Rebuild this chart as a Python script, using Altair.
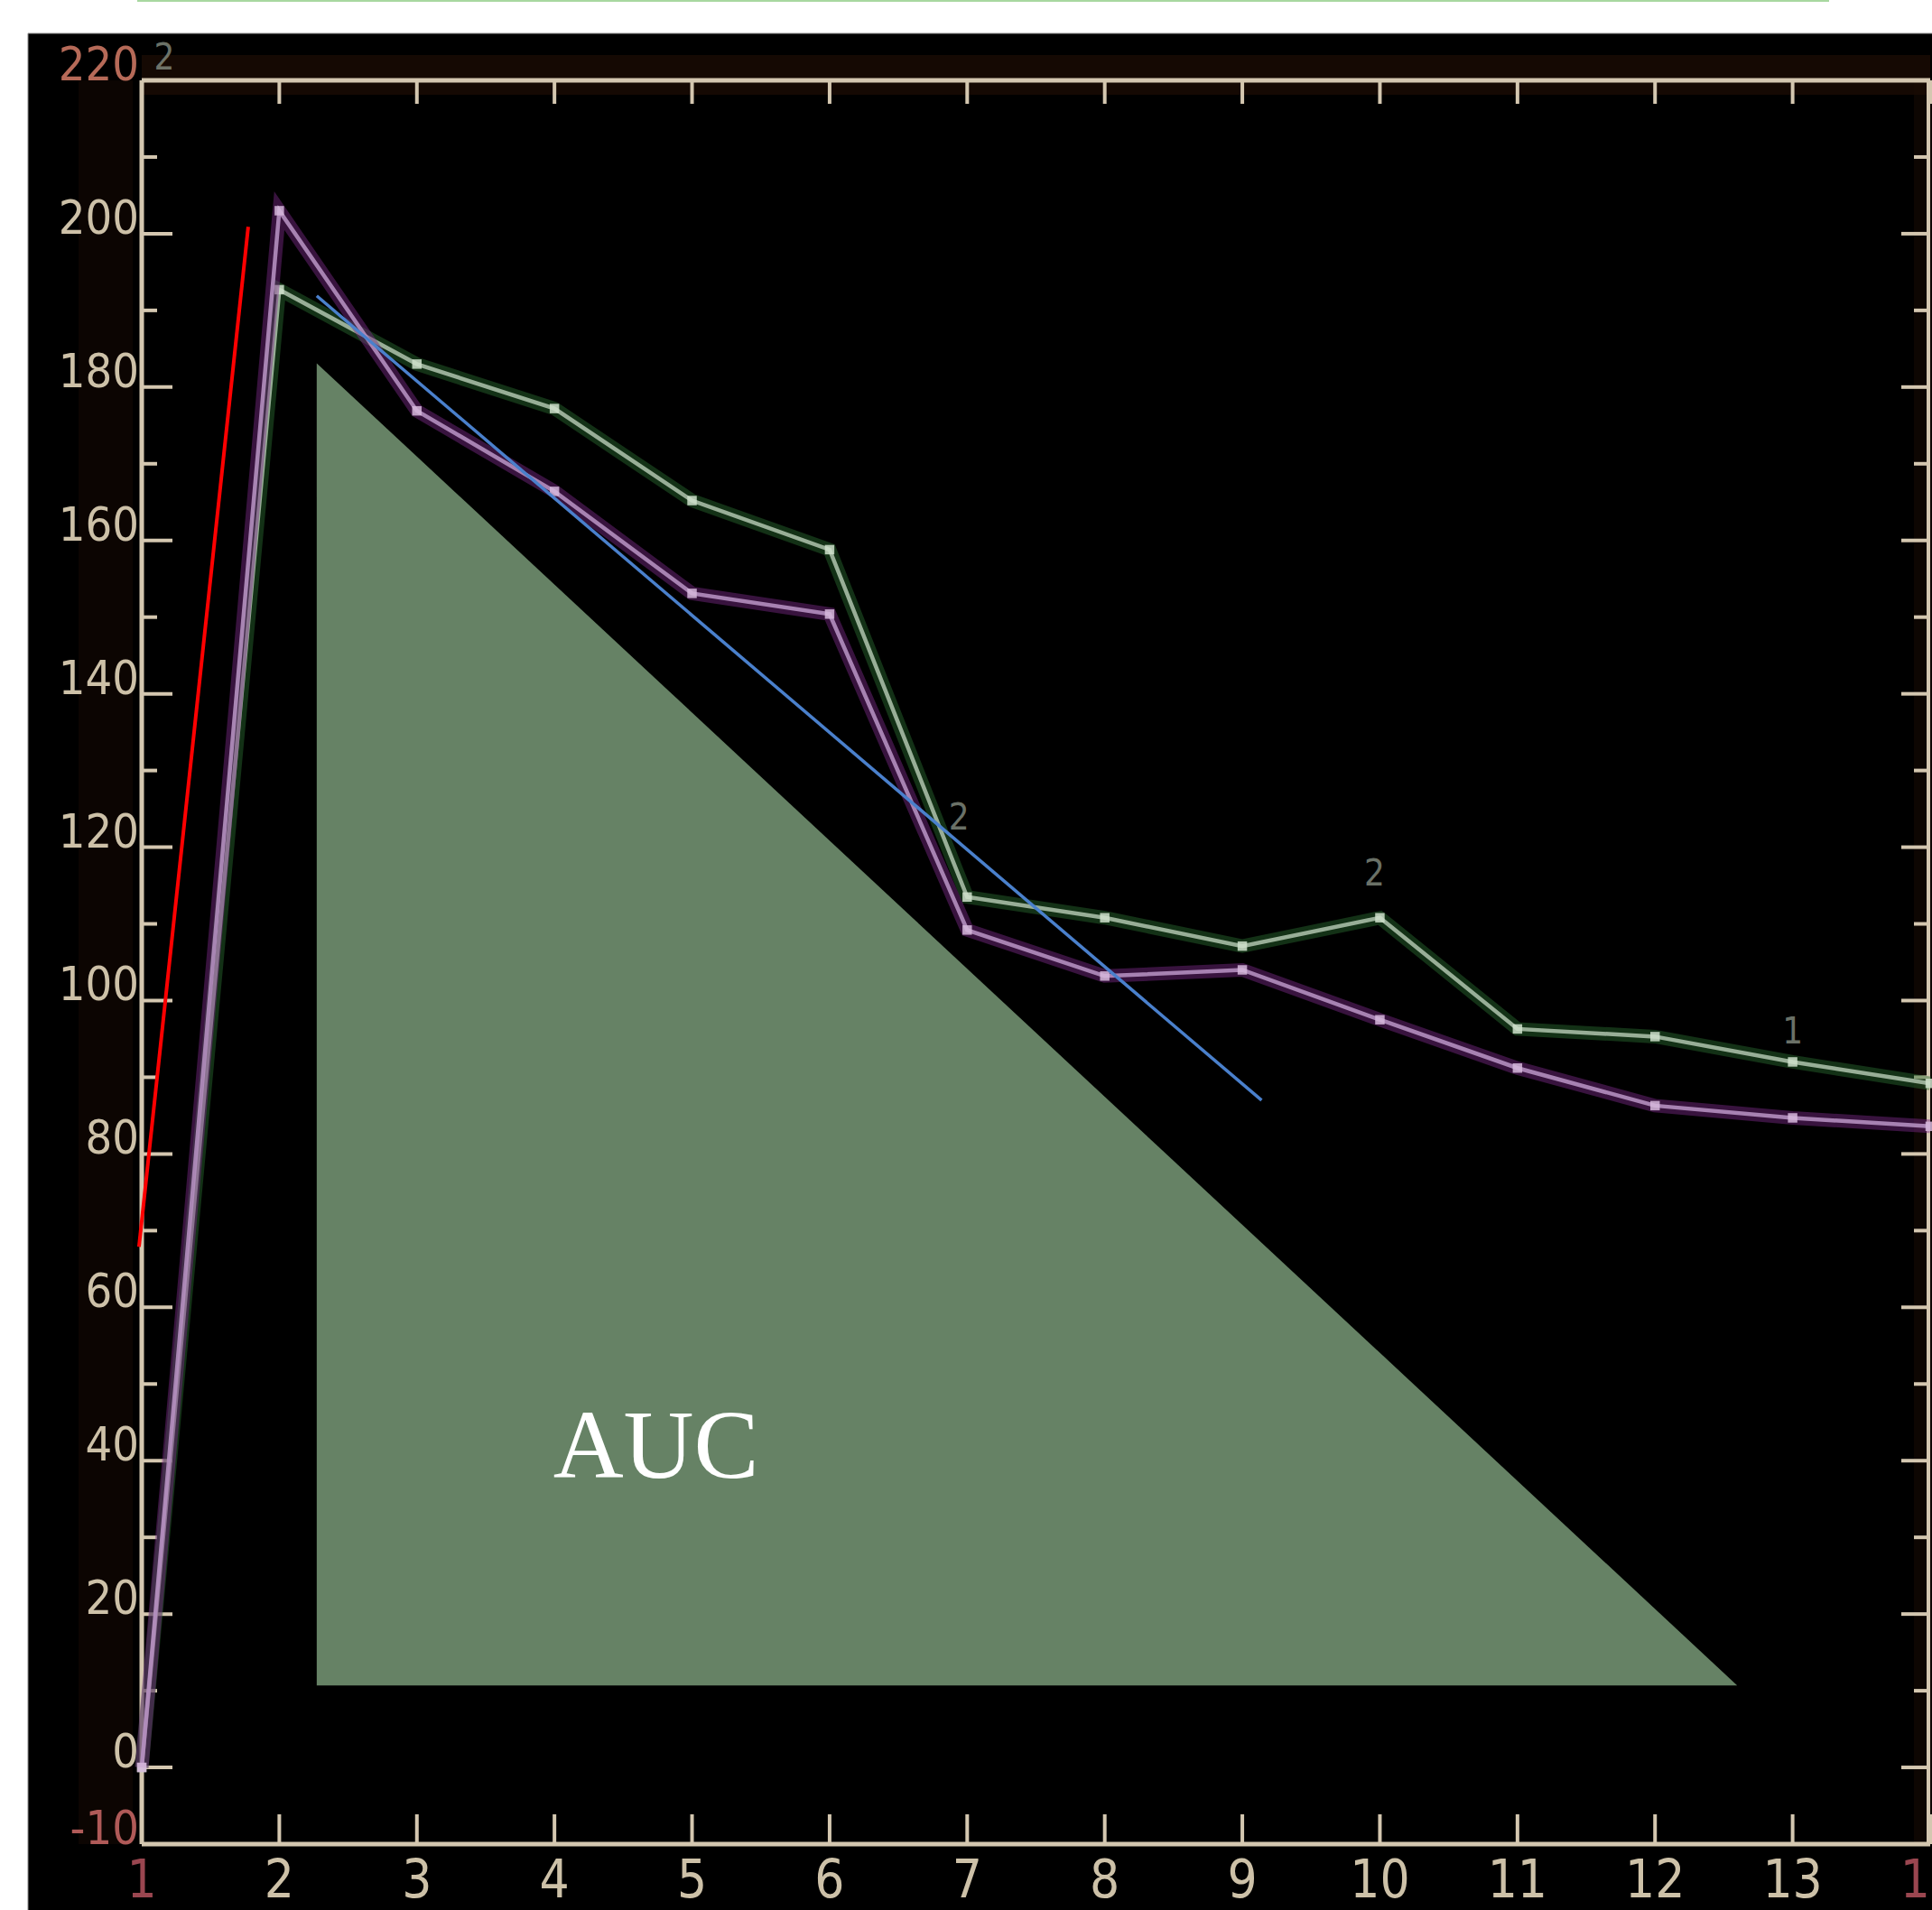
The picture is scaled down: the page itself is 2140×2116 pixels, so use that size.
import altair as alt
import pandas as pd

# Time-intensity curve: two ROI series sampled at frames 1..14
time_points = list(range(1, 15))
roi_purple = [0, 203.0, 176.9, 166.4, 153.1, 150.4, 109.2, 103.2, 104.0, 97.5, 91.2, 86.3, 84.7, 83.6]
roi_green = [0, 192.7, 183.0, 177.2, 165.2, 158.8, 113.5, 110.8, 107.1, 110.8, 96.3, 95.3, 92.0, 89.2]

# Axis labelling
y_label_values = [220, 200, 180, 160, 140, 120, 100, 80, 60, 40, 20, 0, -10]
y_label_text = ["220", "200", "180", "160", "140", "120", "100", "80", "60", "40", "20", "0", "-10"]
y_label_tint = ["#b66a58", "#cdc1a8", "#cdc1a8", "#cdc1a8", "#cdc1a8", "#cdc1a8", "#cdc1a8",
                "#cdc1a8", "#cdc1a8", "#cdc1a8", "#cdc1a8", "#cdc1a8", "#b05a58"]
x_label_values = list(range(1, 15))
x_label_text = [str(v) for v in x_label_values]
x_label_tint = ["#9a4650"] + ["#cdc1a8"] * 12 + ["#9a4650"]
y_tick_values = list(range(-10, 221, 10))
x_tick_values = list(range(1, 15))

# Annotations drawn over the curves
upslope_x = [0.98, 1.774]
upslope_y = [67.9, 200.9]
washout_x = [2.272, 9.14]
washout_y = [191.9, 87.0]
auc_x = [2.272, 12.597]
auc_top = [183.1, 10.7]
auc_base = [10.7, 10.7]
auc_text = ["AUC"]
auc_text_x = [3.99]
auc_text_y = [37.8]

# Small ROI markers printed on the curve display
roi_tag_text = ["2", "2", "2", "1"]
roi_tag_x = [1.164, 6.94, 9.96, 13.0]
roi_tag_y = [222.8, 123.7, 116.4, 95.8]

W, H = 1981, 1954
PAD_L, PAD_T = 157, 89
AXIS_COLOR = "#d4c7b0"

xs = alt.Scale(domain=[1, 14], nice=False, zero=False)
ys = alt.Scale(domain=[-10, 220], nice=False, zero=False)

one = pd.DataFrame({"k": [0]})

# White page margin on the left and top of the black display
margins = alt.layer(
    alt.Chart(one).mark_rect(fill="white").encode(
        x=alt.value(-PAD_L), x2=alt.value(-126), y=alt.value(-PAD_T), y2=alt.value(H + 80)),
    alt.Chart(one).mark_rect(fill="white").encode(
        x=alt.value(-PAD_L), x2=alt.value(W + 10), y=alt.value(-PAD_T), y2=alt.value(-52)),
    alt.Chart(one).mark_rule(color="#8a8a8a", strokeWidth=1).encode(
        x=alt.value(-126), x2=alt.value(W + 10), y=alt.value(-52)),
    alt.Chart(one).mark_rule(color="#8a8a8a", strokeWidth=1).encode(
        x=alt.value(-126), y=alt.value(-52), y2=alt.value(H + 80)),
    # thin green rule along the top of the page
    alt.Chart(one).mark_rule(color="#a8d8a0", strokeWidth=2).encode(
        x=alt.value(-5), x2=alt.value(1869), y=alt.value(-88)),
)

# Faint brown haze around the frame
glow = alt.layer(
    alt.Chart(one).mark_rule(color="#1e0d04", strokeWidth=44, opacity=0.7).encode(
        x=alt.value(0), x2=alt.value(W), y=alt.value(-6)),
    alt.Chart(one).mark_rule(color="#1a0b04", strokeWidth=60, opacity=0.45).encode(
        x=alt.value(-40), y=alt.value(0), y2=alt.value(H)),
    alt.Chart(one).mark_rule(color="#1a0b04", strokeWidth=24, opacity=0.5).encode(
        x=alt.value(W - 6), y=alt.value(0), y2=alt.value(H)),
)

# Frame lines
frame = alt.layer(
    alt.Chart(one).mark_rule(color=AXIS_COLOR, strokeWidth=5).encode(
        x=alt.value(0), x2=alt.value(W), y=alt.value(0)),
    alt.Chart(one).mark_rule(color=AXIS_COLOR, strokeWidth=5).encode(
        x=alt.value(0), x2=alt.value(W), y=alt.value(H)),
    alt.Chart(one).mark_rule(color=AXIS_COLOR, strokeWidth=5).encode(
        x=alt.value(0), y=alt.value(0), y2=alt.value(H)),
    alt.Chart(one).mark_rule(color=AXIS_COLOR, strokeWidth=4).encode(
        x=alt.value(W - 2), y=alt.value(0), y2=alt.value(H)),
)

# Inward tick marks on all four sides
yt = pd.DataFrame({"v": y_tick_values})
yt["major"] = yt["v"] % 20 == 0
xt = pd.DataFrame({"v": x_tick_values})

ticks = alt.layer(
    alt.Chart(yt).transform_filter("datum.major").mark_rule(color=AXIS_COLOR, strokeWidth=4).encode(
        y=alt.Y("v:Q", scale=ys, axis=None), x=alt.value(0), x2=alt.value(34)),
    alt.Chart(yt).transform_filter("!datum.major").mark_rule(color=AXIS_COLOR, strokeWidth=4).encode(
        y=alt.Y("v:Q", scale=ys, axis=None), x=alt.value(0), x2=alt.value(17)),
    alt.Chart(yt).transform_filter("datum.major").mark_rule(color=AXIS_COLOR, strokeWidth=4).encode(
        y=alt.Y("v:Q", scale=ys, axis=None), x=alt.value(W), x2=alt.value(W - 32)),
    alt.Chart(yt).transform_filter("!datum.major").mark_rule(color=AXIS_COLOR, strokeWidth=4).encode(
        y=alt.Y("v:Q", scale=ys, axis=None), x=alt.value(W), x2=alt.value(W - 18)),
    alt.Chart(xt).mark_rule(color=AXIS_COLOR, strokeWidth=4).encode(
        x=alt.X("v:Q", scale=xs, axis=None), y=alt.value(0), y2=alt.value(26)),
    alt.Chart(xt).mark_rule(color=AXIS_COLOR, strokeWidth=4).encode(
        x=alt.X("v:Q", scale=xs, axis=None), y=alt.value(H), y2=alt.value(H - 33)),
)

# Tick labels placed through the same scales
y_labels = alt.Chart(pd.DataFrame({"v": y_label_values, "s": y_label_text, "c": y_label_tint})).mark_text(
    font="DejaVu Sans Condensed, DejaVu Sans, sans-serif", fontSize=52,
    align="right", baseline="alphabetic", clip=False
).encode(
    y=alt.Y("v:Q", scale=ys, axis=None), x=alt.value(-3),
    text="s:N", color=alt.Color("c:N", scale=None),
)
x_labels = alt.Chart(pd.DataFrame({"v": x_label_values, "s": x_label_text, "c": x_label_tint})).mark_text(
    font="Liberation Sans Narrow, DejaVu Sans Condensed, sans-serif", fontSize=58,
    align="center", baseline="top", clip=False
).encode(
    x=alt.X("v:Q", scale=xs, axis=None), y=alt.value(H + 13),
    text="s:N", color=alt.Color("c:N", scale=None),
)

curves = pd.DataFrame({"t": time_points, "purple": roi_purple, "green": roi_green})


def series(col, glow_color, core_color, point_color):
    base = alt.Chart(curves)
    g = base.mark_line(color=glow_color, strokeWidth=15, opacity=0.45).encode(
        x=alt.X("t:Q", scale=xs, axis=None), y=alt.Y(f"{col}:Q", scale=ys, axis=None))
    c = base.mark_line(color=core_color, strokeWidth=4.5, opacity=0.9).encode(
        x=alt.X("t:Q", scale=xs, axis=None), y=alt.Y(f"{col}:Q", scale=ys, axis=None))
    p = base.mark_square(color=point_color, size=110, opacity=0.85).encode(
        x=alt.X("t:Q", scale=xs, axis=None), y=alt.Y(f"{col}:Q", scale=ys, axis=None))
    return alt.layer(g, c, p)


purple_series = series("purple", "#7d2b8a", "#b48fbf", "#d6b8dc")
green_series = series("green", "#2b6d30", "#a7bda5", "#cfe0cb")

tags = alt.Chart(pd.DataFrame({"s": roi_tag_text, "x": roi_tag_x, "y": roi_tag_y})).mark_text(
    font="DejaVu Sans Condensed, DejaVu Sans", fontSize=40, color="#8e978a", opacity=0.75, clip=False
).encode(x=alt.X("x:Q", scale=xs, axis=None), y=alt.Y("y:Q", scale=ys, axis=None), text="s:N")

auc_area = alt.Chart(pd.DataFrame({"x": auc_x, "top": auc_top, "base": auc_base})).mark_area(
    color="#668265", opacity=1
).encode(x=alt.X("x:Q", scale=xs, axis=None), y=alt.Y("top:Q", scale=ys, axis=None), y2="base:Q")

washout = alt.Chart(pd.DataFrame({"x": washout_x, "y": washout_y})).mark_line(
    color="#4a80cc", strokeWidth=3.5
).encode(x=alt.X("x:Q", scale=xs, axis=None), y=alt.Y("y:Q", scale=ys, axis=None))

upslope = alt.Chart(pd.DataFrame({"x": upslope_x, "y": upslope_y})).mark_line(
    color="#ff0000", strokeWidth=4, clip=False
).encode(x=alt.X("x:Q", scale=xs, axis=None), y=alt.Y("y:Q", scale=ys, axis=None))

auc_label = alt.Chart(pd.DataFrame({"s": auc_text, "x": auc_text_x, "y": auc_text_y})).mark_text(
    font="Liberation Serif, Times New Roman, serif", fontSize=108, color="white",
    align="left", baseline="alphabetic"
).encode(x=alt.X("x:Q", scale=xs, axis=None), y=alt.Y("y:Q", scale=ys, axis=None), text="s:N")

chart = alt.layer(
    margins, glow, ticks, frame, y_labels, x_labels, tags,
    green_series, purple_series, auc_area, washout, upslope, auc_label
).properties(
    width=W, height=H, background="black",
    padding={"left": PAD_L, "top": PAD_T, "right": 2, "bottom": 73},
    autosize=alt.AutoSizeParams(type="none"),
).configure_view(stroke=None)

chart.save("out.html", embed_options={"renderer": "svg", "actions": False})
